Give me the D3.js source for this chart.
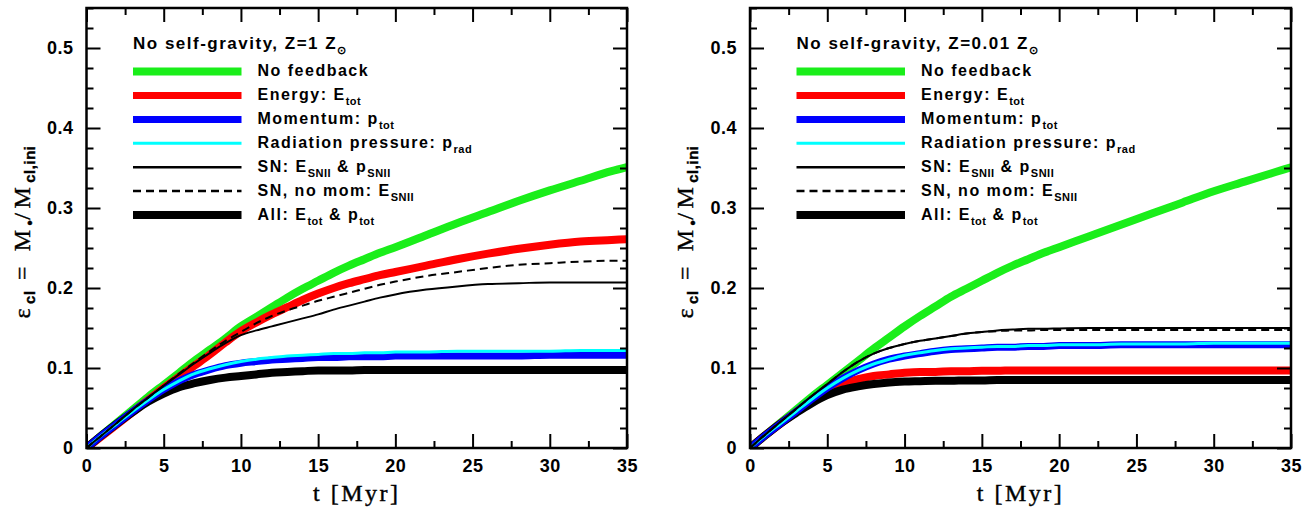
<!DOCTYPE html>
<html><head><meta charset="utf-8">
<script src="https://cdn.jsdelivr.net/npm/d3@7"></script>
<style>
body{margin:0;background:#fff;}
svg{display:block;}
</style></head><body>
<svg id="chart" width="1314" height="523"></svg>
<script>
// ---------- DATA ----------
const tValues = [0,1,2,3,4,5,6,7,8,9,10,11,12,13,14,15,16,17,18,19,20,22,24,26,28,30,32,34,35];

// Left panel: Z = 1 Zsun
const leftNoFeedback = [0,0.016,0.032,0.048,0.064,0.079,0.094,0.109,0.123,0.137,0.152,0.164,0.176,0.188,0.199,0.209,0.219,0.228,0.236,0.244,0.251,0.266,0.281,0.295,0.309,0.322,0.334,0.346,0.351];
const leftEnergy     = [0,0.015,0.030,0.045,0.060,0.075,0.089,0.103,0.117,0.132,0.146,0.157,0.167,0.176,0.185,0.193,0.200,0.206,0.211,0.216,0.220,0.228,0.236,0.243,0.249,0.254,0.258,0.260,0.261];
const leftMomentum   = [0,0.016,0.031,0.046,0.060,0.073,0.084,0.092,0.098,0.103,0.106,0.108,0.110,0.111,0.112,0.113,0.113,0.114,0.114,0.114,0.115,0.115,0.115,0.115,0.115,0.116,0.116,0.116,0.116];
const leftRadiation  = [0,0.016,0.031,0.046,0.060,0.073,0.084,0.093,0.099,0.104,0.108,0.111,0.113,0.115,0.116,0.117,0.118,0.118,0.119,0.119,0.120,0.120,0.121,0.121,0.121,0.121,0.122,0.122,0.122];
const leftSN         = [0,0.016,0.032,0.048,0.063,0.078,0.092,0.106,0.119,0.131,0.141,0.147,0.152,0.157,0.162,0.167,0.173,0.178,0.183,0.188,0.192,0.198,0.202,0.205,0.206,0.207,0.207,0.207,0.207];
const leftSNnoMom    = [0,0.016,0.032,0.048,0.063,0.078,0.093,0.107,0.121,0.134,0.145,0.156,0.165,0.172,0.178,0.184,0.189,0.194,0.199,0.204,0.208,0.215,0.220,0.225,0.229,0.231,0.233,0.234,0.234];
const leftAll        = [0,0.016,0.031,0.045,0.058,0.068,0.076,0.081,0.085,0.088,0.090,0.092,0.094,0.095,0.096,0.097,0.097,0.097,0.0975,0.0975,0.0975,0.0975,0.0975,0.0975,0.0975,0.0975,0.0975,0.0975,0.0975];

// Right panel: Z = 0.01 Zsun
const rightNoFeedback = [0,0.016,0.032,0.048,0.064,0.079,0.094,0.109,0.124,0.138,0.152,0.165,0.177,0.189,0.199,0.209,0.219,0.228,0.236,0.244,0.251,0.265,0.279,0.293,0.307,0.321,0.333,0.345,0.351];
const rightEnergy     = [0,0.016,0.031,0.045,0.059,0.071,0.080,0.086,0.090,0.092,0.094,0.095,0.095,0.096,0.096,0.0965,0.0965,0.097,0.097,0.097,0.097,0.097,0.097,0.097,0.097,0.097,0.097,0.097,0.097];
const rightMomentum   = [0,0.016,0.031,0.046,0.061,0.075,0.087,0.097,0.105,0.111,0.115,0.118,0.121,0.123,0.124,0.125,0.126,0.126,0.127,0.127,0.128,0.128,0.129,0.129,0.129,0.129,0.129,0.129,0.129];
const rightRadiation  = [0,0.016,0.031,0.046,0.061,0.075,0.087,0.097,0.105,0.111,0.116,0.119,0.122,0.124,0.125,0.126,0.127,0.127,0.128,0.128,0.129,0.129,0.130,0.130,0.130,0.131,0.131,0.131,0.131];
const rightSN         = [0,0.017,0.033,0.049,0.065,0.080,0.095,0.108,0.118,0.125,0.130,0.134,0.137,0.140,0.143,0.145,0.147,0.148,0.149,0.149,0.1495,0.150,0.150,0.150,0.150,0.150,0.150,0.150,0.150];
const rightSNnoMom    = [0,0.017,0.033,0.049,0.065,0.080,0.095,0.108,0.118,0.125,0.130,0.134,0.137,0.140,0.143,0.145,0.146,0.147,0.147,0.1475,0.1475,0.1475,0.1475,0.1475,0.1475,0.1475,0.1475,0.1475,0.1475];
const rightAll        = [0,0.016,0.031,0.044,0.056,0.066,0.073,0.077,0.080,0.082,0.083,0.0835,0.084,0.084,0.0845,0.0845,0.085,0.085,0.085,0.085,0.085,0.085,0.085,0.085,0.085,0.085,0.085,0.085,0.085];

const xTickValues = [0,5,10,15,20,25,30,35];
const xMinorTickValues = [2.5,7.5,12.5,17.5,22.5,27.5,32.5];
const yTickValues = [0,0.1,0.2,0.3,0.4,0.5];
const xDomain = [0,35];
const yDomain = [0,0.55];

const panelTitles = [
  [{t:"No self-gravity, Z=1 Z"},{t:"\u2299",sub:true}],
  [{t:"No self-gravity, Z=0.01 Z"},{t:"\u2299",sub:true}]
];
const legendLabels = [
  [{t:"No feedback"}],
  [{t:"Energy: E"},{t:"tot",sub:true}],
  [{t:"Momentum: p"},{t:"tot",sub:true}],
  [{t:"Radiation pressure: p"},{t:"rad",sub:true}],
  [{t:"SN: E"},{t:"SNII",sub:true},{t:" & p"},{t:"SNII",sub:true}],
  [{t:"SN, no mom: E"},{t:"SNII",sub:true}],
  [{t:"All: E"},{t:"tot",sub:true},{t:" & p"},{t:"tot",sub:true}]
];
const xAxisTitle = "t [Myr]";
const yAxisTitle = [{t:"\u03B5"},{t:"cl",sub:true},{t:" = M"},{t:"\u2022",sub:true},{t:"/M"},{t:"cl,ini",sub:true}];

// ---------- STYLES ----------
const styles = {
  noFeedback:{color:"#1aee1a", width:8, dash:null, lw:8},
  energy:{color:"#ff0000", width:8, dash:null, lw:7},
  momentum:{color:"#0000ff", width:7, dash:null, lw:7},
  radiation:{color:"#00ffff", width:3, dash:null, lw:3},
  sn:{color:"#000000", width:2, dash:null, lw:2.5},
  snNoMom:{color:"#000000", width:2, dash:"8,5", lw:2.5},
  all:{color:"#000000", width:8, dash:null, lw:8}
};
const legendOrder = ["noFeedback","energy","momentum","radiation","sn","snNoMom","all"];
const drawOrder = ["noFeedback","energy","all","momentum","radiation","snNoMom","sn"];

const panels = [
  {x0:86.5, x1:627, title:panelTitles[0],
   series:{noFeedback:leftNoFeedback, energy:leftEnergy, momentum:leftMomentum, radiation:leftRadiation, sn:leftSN, snNoMom:leftSNnoMom, all:leftAll}},
  {x0:750, x1:1291, title:panelTitles[1],
   series:{noFeedback:rightNoFeedback, energy:rightEnergy, momentum:rightMomentum, radiation:rightRadiation, sn:rightSN, snNoMom:rightSNnoMom, all:rightAll}}
];
const yTop = 8, yBot = 448;
const sans = "'Liberation Sans', Arial, Helvetica, sans-serif";
const serif = "'Liberation Serif', 'Times New Roman', serif";

const svg = d3.select("#chart");

function richText(sel, segs, size, subSize, subShift){
  segs.forEach((s,i)=>{
    const prevSub = i>0 && segs[i-1].sub;
    const ts = sel.append("tspan").text(s.t);
    if (s.sub){
      ts.attr("font-size",subSize).attr("dy",subShift).attr("font-family",sans).attr("font-weight","bold").attr("letter-spacing","0.5px");
    } else {
      ts.attr("font-size",size);
      if (prevSub) ts.attr("dy",-subShift);
    }
  });
}

panels.forEach((p,pi)=>{
  const x = d3.scaleLinear().domain(xDomain).range([p.x0,p.x1]);
  const y = d3.scaleLinear().domain(yDomain).range([yBot,yTop]);
  const g = svg.append("g");

  const clipId = "clip"+pi;
  svg.append("clipPath").attr("id",clipId).append("rect")
    .attr("x",p.x0).attr("y",yTop).attr("width",p.x1-p.x0).attr("height",yBot-yTop);

  // curves
  const line = d3.line().x(d=>x(d[0])).y(d=>y(d[1])).curve(d3.curveMonotoneX);
  const cg = g.append("g").attr("clip-path",`url(#${clipId})`);
  drawOrder.forEach(k=>{
    const st = styles[k];
    const data = tValues.map((t,i)=>[t,p.series[k][i]]);
    cg.append("path").datum(data).attr("d",line)
      .attr("fill","none").attr("stroke",st.color).attr("stroke-width",st.width)
      .attr("stroke-dasharray",st.dash).attr("stroke-linejoin","round");
  });

  // axes
  const tickStyle = a => { a.select(".domain").remove(); a.selectAll("line").attr("stroke","#000").attr("stroke-width",2); };
  const fmtY = d => d===0 ? "0" : d3.format(".1f")(d);
  const bottom = g.append("g").attr("transform",`translate(0,${yBot})`)
    .call(d3.axisBottom(x).tickValues(xTickValues).tickSizeInner(-14).tickSizeOuter(0).tickPadding(11).tickFormat(d3.format("d")));
  tickStyle(bottom);
  bottom.selectAll("text").attr("font-family",sans).attr("font-size",18).attr("font-weight","bold").attr("fill","#000").attr("letter-spacing","0.5px");
  const bottomMinor = g.append("g").attr("transform",`translate(0,${yBot})`)
    .call(d3.axisBottom(x).tickValues(xMinorTickValues).tickSizeInner(-7).tickSizeOuter(0).tickFormat(""));
  tickStyle(bottomMinor);
  const top = g.append("g").attr("transform",`translate(0,${yTop})`)
    .call(d3.axisTop(x).tickValues(xTickValues).tickSizeInner(-14).tickSizeOuter(0).tickFormat(""));
  tickStyle(top);
  const topMinor = g.append("g").attr("transform",`translate(0,${yTop})`)
    .call(d3.axisTop(x).tickValues(xMinorTickValues).tickSizeInner(-7).tickSizeOuter(0).tickFormat(""));
  tickStyle(topMinor);

  const yMinor = d3.range(0,0.5501,0.025).filter(v=>Math.abs(v*10-Math.round(v*10))>1e-6);
  const left = g.append("g").attr("transform",`translate(${p.x0},0)`)
    .call(d3.axisLeft(y).tickValues(yTickValues).tickSizeInner(-14).tickSizeOuter(0).tickPadding(13).tickFormat(fmtY));
  tickStyle(left);
  left.selectAll("text").attr("font-family",sans).attr("font-size",18).attr("font-weight","bold").attr("fill","#000").attr("letter-spacing","0.5px");
  const leftMinor = g.append("g").attr("transform",`translate(${p.x0},0)`)
    .call(d3.axisLeft(y).tickValues(yMinor).tickSizeInner(-7).tickSizeOuter(0).tickFormat(""));
  tickStyle(leftMinor);
  const right = g.append("g").attr("transform",`translate(${p.x1},0)`)
    .call(d3.axisRight(y).tickValues(yTickValues).tickSizeInner(-14).tickSizeOuter(0).tickFormat(""));
  tickStyle(right);
  const rightMinor = g.append("g").attr("transform",`translate(${p.x1},0)`)
    .call(d3.axisRight(y).tickValues(yMinor).tickSizeInner(-7).tickSizeOuter(0).tickFormat(""));
  tickStyle(rightMinor);

  // frame
  g.append("rect").attr("x",p.x0).attr("y",yTop).attr("width",p.x1-p.x0).attr("height",yBot-yTop)
    .attr("fill","none").attr("stroke","#000").attr("stroke-width",2.5);

  // axis titles
  const cx = (p.x0+p.x1)/2;
  g.append("text").attr("x",cx).attr("y",501).attr("text-anchor","middle")
    .attr("font-family",serif).attr("font-size",24).attr("letter-spacing","2.5px").attr("fill","#000")
    .attr("stroke","#000").attr("stroke-width",0.4).text(xAxisTitle);
  const yl = g.append("text").attr("transform",`translate(${p.x0-57},232) rotate(-90)`)
    .attr("text-anchor","middle").attr("font-family",serif).attr("font-size",24).attr("letter-spacing","4.5px").attr("fill","#000")
    .attr("stroke","#000").attr("stroke-width",0.4);
  richText(yl, yAxisTitle, 24, 15, 5);

  // legend
  const lx0 = p.x0+46.5, lx1 = p.x0+155, tx = p.x0+171;
  const tt = g.append("text").attr("x",lx0).attr("y",49).attr("font-family",sans).attr("font-weight","bold")
    .attr("font-size",17).attr("letter-spacing","1.5px").attr("fill","#000");
  richText(tt, p.title, 17, 11, 5);
  legendOrder.forEach((k,i)=>{
    const st = styles[k];
    const ry = 71.6 + 23.9*i;
    g.append("line").attr("x1",lx0).attr("x2",lx1).attr("y1",ry).attr("y2",ry)
      .attr("stroke",st.color).attr("stroke-width",st.lw).attr("stroke-dasharray",st.dash);
    const t = g.append("text").attr("x",tx).attr("y",ry+4.5).attr("font-family",sans).attr("font-weight","bold")
      .attr("font-size",16).attr("letter-spacing","1.5px").attr("fill","#000");
    richText(t, legendLabels[i], 16, 11, 5);
  });
});
</script>
</body></html>
